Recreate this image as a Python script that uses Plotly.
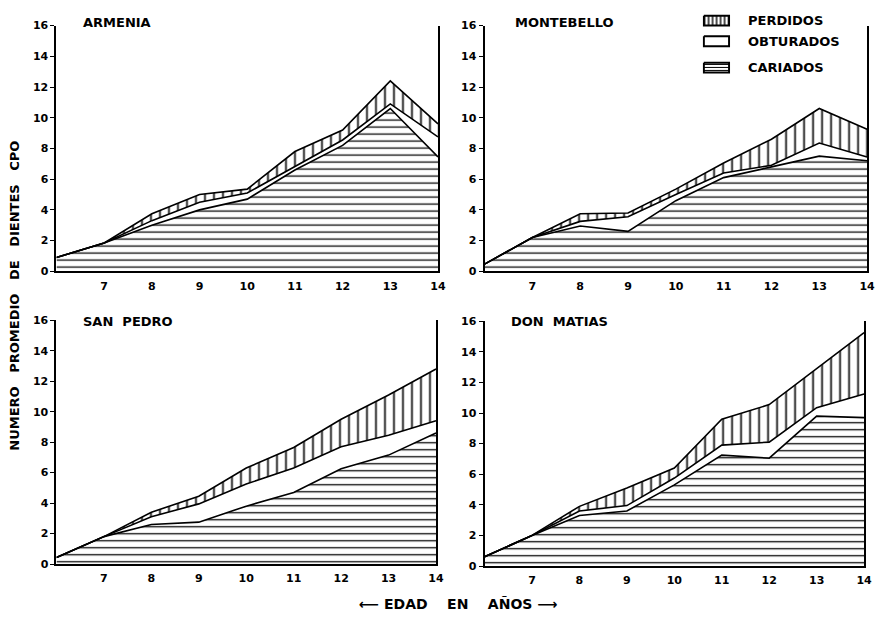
import plotly.graph_objects as go

ages = [6, 7, 8, 9, 10, 11, 12, 13, 14]
x_ticks = [7, 8, 9, 10, 11, 12, 13, 14]
y_ticks = [0, 2, 4, 6, 8, 10, 12, 14, 16]

towns = ["ARMENIA", "MONTEBELLO", "SAN\u00a0\u00a0PEDRO", "DON\u00a0\u00a0MATIAS"]
legend_labels = ["PERDIDOS", "OBTURADOS", "CARIADOS"]

# component values (stacked: cariados, obturados, perdidos)
armenia_cariados = [0.9, 1.85, 3.0, 4.0, 4.7, 6.6, 8.2, 10.6, 7.45]
armenia_obturados = [0, 0, 0.3, 0.5, 0.4, 0.25, 0.35, 0.3, 1.3]
armenia_perdidos = [0, 0, 0.45, 0.5, 0.25, 0.95, 0.65, 1.5, 0.85]

montebello_cariados = [0.47, 2.2, 2.95, 2.6, 4.6, 6.1, 6.8, 7.5, 7.2]
montebello_obturados = [0, 0, 0.3, 0.95, 0.4, 0.3, 0.1, 0.85, 0.25]
montebello_perdidos = [0, 0, 0.5, 0.25, 0.35, 0.65, 1.7, 2.25, 1.8]

sanpedro_cariados = [0.43, 1.8, 2.6, 2.75, 3.8, 4.7, 6.25, 7.15, 8.6]
sanpedro_obturados = [0, 0, 0.5, 1.2, 1.45, 1.6, 1.45, 1.3, 0.8]
sanpedro_perdidos = [0, 0, 0.3, 0.5, 1.05, 1.35, 1.8, 2.65, 3.4]

donmatias_cariados = [0.6, 2.0, 3.3, 3.6, 5.3, 7.25, 7.05, 9.8, 9.7]
donmatias_obturados = [0, 0, 0.3, 0.35, 0.45, 0.65, 1.05, 0.55, 1.55]
donmatias_perdidos = [0, 0, 0.3, 1.15, 0.65, 1.7, 2.45, 2.55, 4.0]

series = [
    (armenia_cariados, armenia_obturados, armenia_perdidos),
    (montebello_cariados, montebello_obturados, montebello_perdidos),
    (sanpedro_cariados, sanpedro_obturados, sanpedro_perdidos),
    (donmatias_cariados, donmatias_obturados, donmatias_perdidos),
]

W, H = 883, 620
# plot areas in pixels (left, right, top, bottom)
boxes = [(57, 442, 20, 271), (489, 875, 20, 271), (57, 440, 321, 570), (489, 872, 322, 572)]
title_pos = [(82, 17), (518, 17), (82, 322), (514, 322)]

FONT = "DejaVu Sans"
BOLD = dict(family=FONT, color="black", weight="bold")

pat_h = dict(shape="-", fgcolor="black", bgcolor="white", size=7, solidity=0.18, fillmode="replace")
pat_v = dict(shape="|", fgcolor="black", bgcolor="white", size=9, solidity=0.18, fillmode="replace")

fig = go.Figure()

for i, (c, o, p) in enumerate(series):
    n = "" if i == 0 else str(i + 1)
    xa, ya = "x" + n, "y" + n
    grp = "s%d" % i
    common = dict(x=ages, xaxis=xa, yaxis=ya, stackgroup=grp, mode="lines", showlegend=False,
                  line=dict(color="black", width=1.6), hoverinfo="skip", fillcolor="white")
    fig.add_trace(go.Scatter(y=c, name="CARIADOS", fillpattern=pat_h, **common))
    fig.add_trace(go.Scatter(y=o, name="OBTURADOS", **common))
    fig.add_trace(go.Scatter(y=p, name="PERDIDOS", fillpattern=pat_v, **common))

# legend swatches on a hidden axis pair measured in pixels
leg_rows = [(10, 20), (31, 41), (58, 68)]
leg_pats = [dict(pat_v, size=4, solidity=0.35), None, dict(pat_h, size=3, solidity=0.35)]
for (a, b), pat, lab in zip(leg_rows, leg_pats, legend_labels):
    kw = dict(fillpattern=pat) if pat else {}
    fig.add_trace(go.Scatter(x=[0, 1, 1, 0, 0], y=[a, a, b, b, a], xaxis="x5", yaxis="y5",
                             fill="toself", fillcolor="white", mode="lines",
                             line=dict(color="black", width=2), showlegend=False,
                             hoverinfo="skip", name=lab, **kw))

layout = dict(width=W, height=H, margin=dict(l=0, r=0, t=0, b=0),
              paper_bgcolor="white", plot_bgcolor="rgba(0,0,0,0)", annotations=[])
tickfont = dict(BOLD, size=11)
for i, (l, r, t, b) in enumerate(boxes):
    n = "" if i == 0 else str(i + 1)
    layout["xaxis" + n] = dict(domain=[l / W, r / W], anchor="y" + n, range=[6, 14],
                               tickvals=x_ticks, ticktext=[str(v) for v in x_ticks],
                               showgrid=False, zeroline=False, showline=True,
                               linecolor="black", linewidth=2, ticks="outside", ticklen=3,
                               tickcolor="white", tickfont=tickfont)
    layout["yaxis" + n] = dict(domain=[1 - b / H, 1 - t / H], anchor="x" + n, range=[0, 16],
                               tickvals=y_ticks, showgrid=False, zeroline=False, showline=True,
                               mirror=True, linecolor="black", linewidth=2, ticks="outside",
                               ticklen=4, tickcolor="black", tickfont=tickfont)
    tx, ty = title_pos[i]
    layout["annotations"].append(dict(text=towns[i], x=tx / W, y=1 - ty / H, xref="paper",
                                      yref="paper", xanchor="left", yanchor="middle",
                                      showarrow=False, font=dict(BOLD, size=13)))

layout["xaxis5"] = dict(domain=[709 / W, 737 / W], range=[-0.05, 1.05], visible=False,
                        anchor="y5", fixedrange=True)
layout["yaxis5"] = dict(domain=[1 - 75 / H, 1 - 3 / H], range=[75, 3], visible=False,
                        anchor="x5", fixedrange=True)
for (a, b), lab in zip(leg_rows, legend_labels):
    layout["annotations"].append(dict(text=lab, x=753 / W, y=1 - ((a + b) / 2) / H,
                                      xref="paper", yref="paper", xanchor="left",
                                      yanchor="middle", showarrow=False,
                                      font=dict(BOLD, size=13)))

sp = "\u00a0\u00a0\u00a0"
layout["annotations"].append(dict(text="NUMERO" + sp + "PROMEDIO" + sp + "DE" + sp + "DIENTES" + sp + "CPO",
                                  textangle=-90, x=15 / W, y=1 - 296 / H, xref="paper",
                                  yref="paper", showarrow=False, xanchor="center",
                                  yanchor="middle", font=dict(BOLD, size=13)))
sp2 = "\u00a0\u00a0\u00a0\u00a0"
layout["annotations"].append(dict(text="⟵ EDAD" + sp2 + "EN" + sp2 + "AÑOS ⟶", x=462 / W,
                                  y=1 - 611 / H, xref="paper", yref="paper", showarrow=False,
                                  xanchor="center", yanchor="middle", font=dict(BOLD, size=14)))

fig.update_layout(**layout)
fig.write_html("out.html", post_script="document.body.style.margin='0';",
               config={"displayModeBar": False})
